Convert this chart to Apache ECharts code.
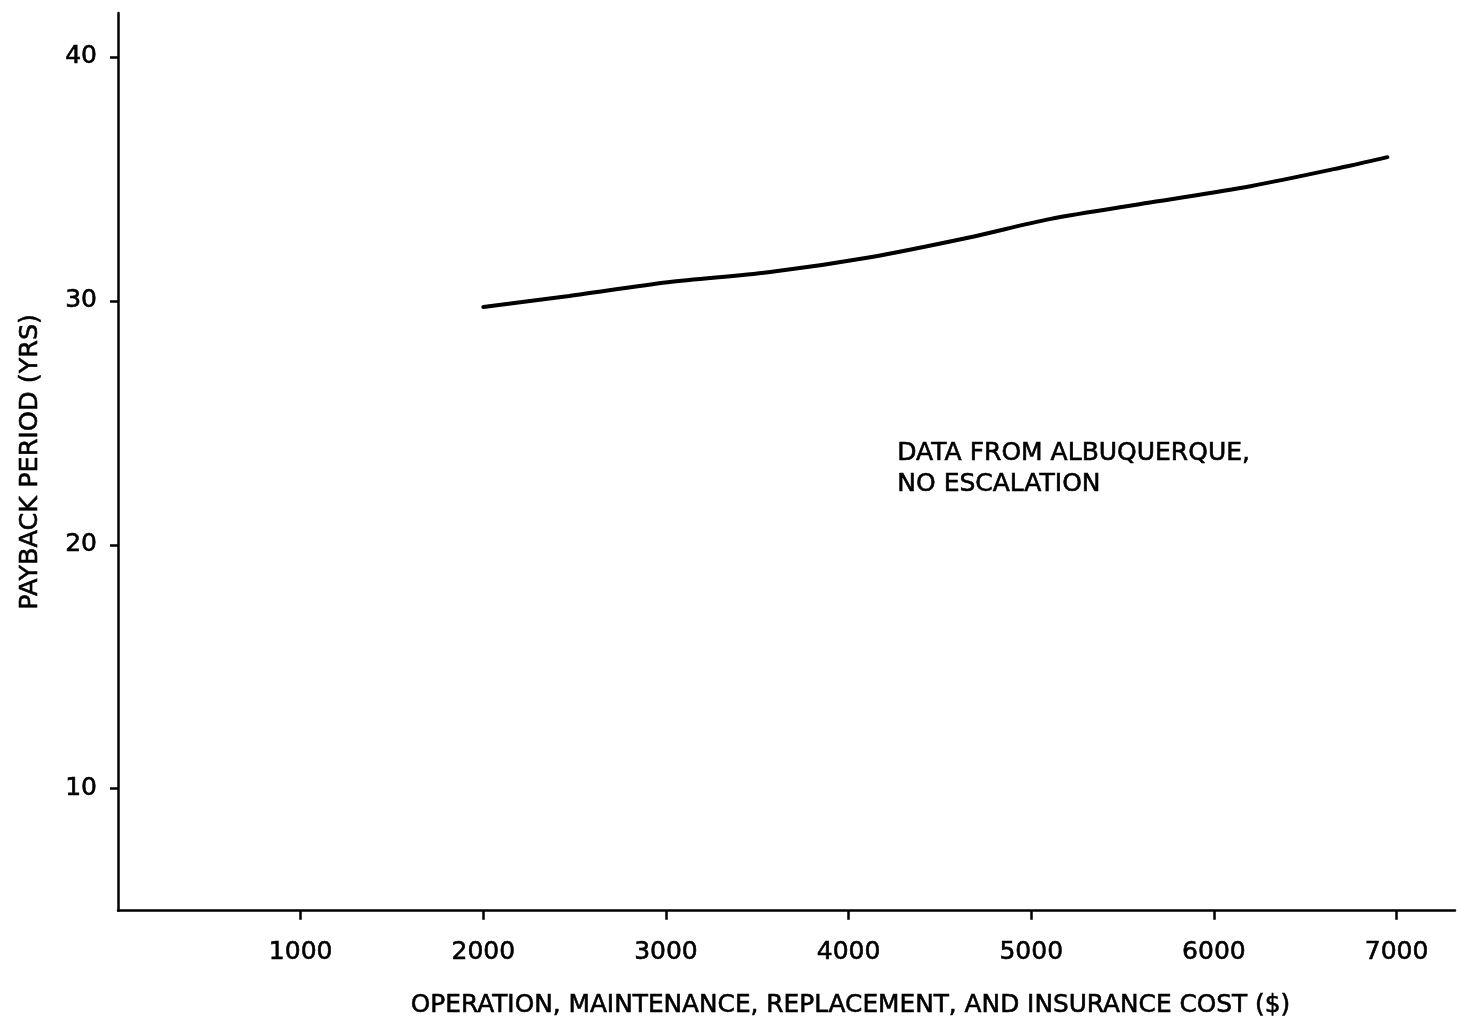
<!DOCTYPE html>
<html>
<head>
<meta charset="utf-8">
<script src="https://cdn.jsdelivr.net/npm/echarts@6/dist/echarts.min.js"></script>
<style>html,body{margin:0;padding:0;background:#fff}#c{width:1457px;height:1023px}</style>
</head>
<body>
<div id="c"></div>
<script>
const costs = [2000, 2470, 3010, 3560, 4110, 4660, 5100, 5650, 6200, 6750, 6950];
const payback = [29.75, 30.2, 30.76, 31.17, 31.78, 32.6, 33.35, 34.03, 34.7, 35.55, 35.89];
const xTicks = [1000, 2000, 3000, 4000, 5000, 6000, 7000];
const yTicks = [10, 20, 30, 40];
const xTitle = 'OPERATION, MAINTENANCE, REPLACEMENT, AND INSURANCE COST ($)';
const yTitle = 'PAYBACK PERIOD (YRS)';
const note = ['DATA FROM ALBUQUERQUE,', 'NO ESCALATION'];

const FONT = '"DejaVu Sans", sans-serif';
const chart = echarts.init(document.getElementById('c'), null, {renderer: 'canvas'});
const heavy = {textBorderColor: '#000', textBorderWidth: 0.6};
chart.setOption({
  backgroundColor: '#fff',
  animation: false,
  grid: {left: 118, right: 2, top: 13, bottom: 108, containLabel: false},
  xAxis: {
    type: 'value', min: 0, max: 7320,
    axisLine: {show: true, lineStyle: {color: '#000', width: 2.5}},
    axisTick: {show: true, length: 9, inside: false, customValues: xTicks, lineStyle: {color: '#000', width: 2.5}},
    axisLabel: Object.assign({show: true, margin: 29, customValues: xTicks, formatter: v => String(v), color: '#000', fontFamily: FONT, fontSize: 25}, heavy),
    splitLine: {show: false},
    name: xTitle, nameLocation: 'middle', nameGap: 82,
    nameTextStyle: Object.assign({color: '#000', fontFamily: FONT, fontSize: 24.8, padding: [0, 0, 0, 128]}, heavy)
  },
  yAxis: {
    type: 'value', min: 5, max: 41.8,
    axisLine: {show: true, lineStyle: {color: '#000', width: 2.5}},
    axisTick: {show: true, length: 8, inside: false, customValues: yTicks, lineStyle: {color: '#000', width: 2.5}},
    axisLabel: Object.assign({show: true, margin: 21, customValues: yTicks, formatter: v => String(v), color: '#000', fontFamily: FONT, fontSize: 25}, heavy),
    splitLine: {show: false},
    name: yTitle, nameLocation: 'middle', nameGap: 75, nameRotate: 90,
    nameTextStyle: Object.assign({color: '#000', fontFamily: FONT, fontSize: 25.5}, heavy)
  },
  graphic: [{
    type: 'text', left: 897, top: 438,
    style: {text: note.join('\n'), fill: '#000', font: '25px ' + FONT, lineHeight: 31, stroke: '#000', lineWidth: 0.6}
  }],
  series: [{
    type: 'line',
    data: costs.map((c, i) => [c, payback[i]]),
    smooth: 0.3,
    showSymbol: false,
    lineStyle: {color: '#000', width: 4, cap: 'round'}
  }]
});
</script>
</body>
</html>
